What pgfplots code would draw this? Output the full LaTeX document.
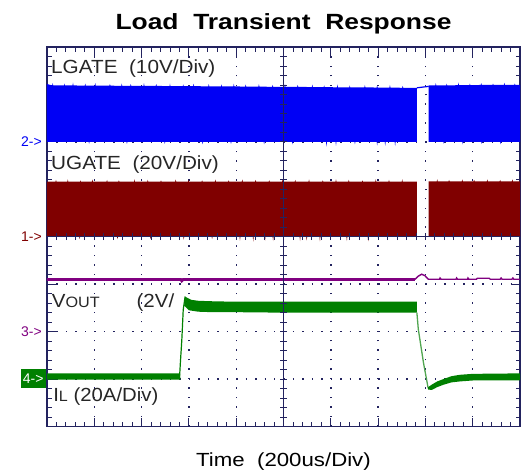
\documentclass[border=0pt]{standalone}
\usepackage{pgfplots}
\pgfplotsset{compat=1.18}
\usepackage{graphicx}
\usepackage{fontspec}
\setmainfont{Liberation Sans}
\definecolor{navy}{RGB}{35,35,95}
\definecolor{sblue}{RGB}{0,0,245}
\definecolor{sred}{RGB}{128,0,0}
\definecolor{spurple}{RGB}{128,0,128}
\definecolor{sgreen}{RGB}{0,128,0}
\definecolor{lgreen}{RGB}{80,165,80}
\newcommand{\wx}[2]{\scalebox{#1}[1]{#2}}
\begin{document}
\begin{tikzpicture}[x=1pt,y=1pt]
\useasboundingbox (-47,-45.5) rectangle (477,426.5);
\begin{axis}[at={(0,0)}, anchor=south west, scale only axis,
  width=473pt, height=379.5pt,
  xmin=0, xmax=10, ymin=0, ymax=8, clip=false,
  axis line style={navy, line width=1.6pt},
  xtick={0,...,10}, ytick={0,...,8}, xticklabels={}, yticklabels={},
  minor x tick num=4, minor y tick num=4,
  tick align=inside, major tick length=9pt, minor tick length=4.5pt,
  tick style={navy, line width=0.9pt},
  grid=major,
  major grid style={navy, line width=1.4pt, dash pattern=on 1.4pt off 8.06pt},
]
% LGATE (blue)
\addplot[fill=sblue, draw=none] coordinates {
(0,6.0) (0,7.22) (0.11,7.19) (0.12,7.24) (0.13,7.19) (0.36,7.19) (0.37,7.23) (0.38,7.19) (0.54,7.19) (0.55,7.25) (0.56,7.19)
(0.80,7.185) (0.81,7.23) (0.82,7.185) (1.01,7.185) (1.02,7.24) (1.03,7.185) (1.32,7.185) (1.33,7.22) (1.34,7.185)
(1.57,7.18) (1.58,7.23) (1.59,7.18) (1.76,7.18) (1.77,7.22) (1.78,7.18) (2.04,7.18) (2.05,7.24) (2.06,7.18)
(2.30,7.18) (2.31,7.22) (2.32,7.18) (2.59,7.175) (2.60,7.23) (2.61,7.175) (2.87,7.175) (2.88,7.21) (2.89,7.175)
(3.09,7.175) (3.10,7.23) (3.11,7.175) (3.41,7.17) (3.42,7.22) (3.43,7.17) (3.68,7.17) (3.69,7.21) (3.70,7.17)
(3.94,7.17) (3.95,7.23) (3.96,7.17) (4.19,7.165) (4.20,7.21) (4.21,7.165) (4.47,7.165) (4.48,7.22) (4.49,7.165)
(4.76,7.16) (4.77,7.20) (4.78,7.16) (5.02,7.16) (5.03,7.22) (5.04,7.16) (5.29,7.16) (5.30,7.20) (5.31,7.16)
(5.60,7.155) (5.61,7.21) (5.62,7.155) (5.85,7.155) (5.86,7.19) (5.87,7.155) (6.13,7.15) (6.14,7.21) (6.15,7.15)
(6.39,7.15) (6.40,7.19) (6.41,7.15) (6.71,7.15) (6.72,7.20) (6.73,7.15) (6.97,7.145) (6.98,7.19) (6.99,7.145)
(7.24,7.145) (7.25,7.20) (7.26,7.145) (7.51,7.14) (7.52,7.18) (7.53,7.14) (7.82,7.14) (7.82,6.0)
(7.37,6.0) (7.36,5.91) (7.35,6.0) (7.16,6.0) (7.15,5.92) (7.14,6.0)
(6.99,6.0) (6.98,5.92) (6.97,6.0) (6.52,6.0) (6.51,5.95) (6.50,6.0) (6.12,6.0) (6.11,5.92) (6.10,6.0)
(5.92,6.0) (5.91,5.90) (5.90,6.0) (5.20,6.0) (5.19,5.95) (5.18,6.0) (4.6,6.0) (4.59,5.95) (4.58,6.0)
(3.9,6.0) (3.89,5.96) (3.88,6.0) (3.3,6.0) (3.29,5.95) (3.28,6.0) (2.5,6.0) (2.49,5.96) (2.48,6.0)
(1.7,6.0) (1.69,5.96) (1.68,6.0) (0.9,6.0) (0.89,5.96) (0.88,6.0)
} -- cycle;
\addplot[fill=sblue, draw=none] coordinates {
(8.07,6.0) (8.07,7.19) (8.21,7.19) (8.22,7.24) (8.23,7.19) (8.44,7.19) (8.45,7.23) (8.46,7.19) (8.69,7.195) (8.70,7.25) (8.71,7.195)
(8.93,7.195) (8.94,7.23) (8.95,7.195) (9.17,7.20) (9.18,7.24) (9.19,7.20) (9.42,7.20) (9.43,7.23) (9.44,7.20)
(9.66,7.20) (9.67,7.25) (9.68,7.20) (9.88,7.20) (9.89,7.23) (9.90,7.20) (10,7.20)
(10,6.0) (9.6,6.0) (9.59,5.95) (9.58,6.0) (9.2,6.0) (9.19,5.96) (9.18,6.0) (8.8,6.0) (8.79,5.95) (8.78,6.0)
(8.4,6.0) (8.39,5.96) (8.38,6.0)
} -- cycle;
\addplot[sblue, line width=1.2pt] coordinates {(7.82,7.14) (8.07,7.17)};
% UGATE (dark red)
\addplot[fill=sred, draw=none] coordinates {
(0,4.0) (0,5.16) (0.18,5.16) (0.19,5.20) (0.20,5.16) (0.43,5.16) (0.44,5.21) (0.45,5.16) (0.70,5.16) (0.71,5.19) (0.72,5.16)
(0.95,5.16) (0.96,5.21) (0.97,5.16) (1.26,5.16) (1.27,5.20) (1.28,5.16) (1.51,5.16) (1.52,5.19) (1.53,5.16)
(1.84,5.16) (1.85,5.21) (1.86,5.16) (2.12,5.16) (2.13,5.20) (2.14,5.16) (2.40,5.16) (2.41,5.19) (2.42,5.16)
(2.71,5.16) (2.72,5.21) (2.73,5.16) (2.98,5.16) (2.99,5.20) (3.00,5.16) (3.27,5.16) (3.28,5.19) (3.29,5.16)
(3.55,5.16) (3.56,5.21) (3.57,5.16) (3.83,5.16) (3.84,5.19) (3.85,5.16) (4.12,5.16) (4.13,5.21) (4.14,5.16)
(4.40,5.16) (4.41,5.20) (4.42,5.16) (4.69,5.16) (4.70,5.19) (4.71,5.16) (4.97,5.16) (4.98,5.21) (4.99,5.16)
(5.24,5.16) (5.25,5.20) (5.26,5.16) (5.53,5.16) (5.54,5.21) (5.55,5.16) (5.82,5.16) (5.83,5.19) (5.84,5.16)
(6.10,5.16) (6.11,5.21) (6.12,5.16) (6.37,5.16) (6.38,5.20) (6.39,5.16) (6.66,5.16) (6.67,5.19) (6.68,5.16)
(6.94,5.16) (6.95,5.21) (6.96,5.16) (7.22,5.16) (7.23,5.20) (7.24,5.16) (7.50,5.16) (7.51,5.21) (7.52,5.16)
(7.82,5.16) (7.82,4.0)
(6.80,4.0) (6.79,3.90) (6.78,4.0) (6.35,4.0) (6.34,3.91) (6.33,4.0)
(5.78,4.0) (5.77,3.90) (5.76,4.0) (5.50,4.0) (5.49,3.92) (5.48,4.0)
(5.36,4.0) (5.35,3.91) (5.34,4.0) (4.79,4.0) (4.78,3.91) (4.77,4.0)
(4.62,4.0) (4.61,3.92) (4.60,4.0) (4.37,4.0) (4.36,3.90) (4.35,4.0)
(4.09,4.0) (4.08,3.92) (4.07,4.0) (3.5,4.0) (3.49,3.95) (3.48,4.0) (2.9,4.0) (2.89,3.94) (2.88,4.0)
(2.2,4.0) (2.19,3.95) (2.18,4.0) (1.5,4.0) (1.49,3.95) (1.48,4.0) (0.7,4.0) (0.69,3.95) (0.68,4.0)
} -- cycle;
\addplot[fill=sred, draw=none] coordinates {
(8.07,4.0) (8.07,5.17) (8.24,5.17) (8.25,5.21) (8.26,5.17) (8.49,5.17) (8.50,5.20) (8.51,5.17) (8.77,5.17) (8.78,5.21) (8.79,5.17)
(9.02,5.17) (9.03,5.20) (9.04,5.17) (9.30,5.17) (9.31,5.21) (9.32,5.17) (9.57,5.17) (9.58,5.20) (9.59,5.17)
(9.83,5.17) (9.84,5.21) (9.85,5.17) (10,5.17)
(10,4.0) (9.2,4.0) (9.19,3.94) (9.18,4.0) (8.6,4.0) (8.59,3.94) (8.58,4.0)
} -- cycle;
\addplot[sred, line width=1.2pt] coordinates {(7.82,4.01) (8.07,4.01)};
% purple
\addplot[spurple, line width=2.8pt] coordinates {(0,3.10) (2.83,3.10) (2.85,3.07) (2.88,3.10) (7.78,3.10)};
\addplot[spurple, line width=1.4pt] coordinates {(7.78,3.10) (7.85,3.17) (7.92,3.21) (7.99,3.18) (8.06,3.105)
 (8.30,3.105) (8.31,3.13) (8.33,3.105) (8.65,3.105) (8.66,3.13) (8.68,3.105) (8.89,3.105) (8.90,3.13) (8.92,3.105)
 (9.08,3.105) (9.10,3.125) (9.35,3.125) (9.37,3.105) (9.58,3.105) (9.60,3.13) (9.62,3.105) (9.83,3.105) (9.85,3.13) (9.87,3.105) (10,3.105)};
% green (VOUT / IL)
\addplot[fill=sgreen, draw=none] coordinates {(0,0.99) (0,1.12) (2.81,1.12) (2.82,0.99)} -- cycle;
\addplot[sgreen, line width=1.2pt] coordinates {(2.80,1.0) (2.82,1.35) (2.85,1.82) (2.88,2.46) (2.92,2.74)};
\addplot[fill=sgreen, draw=none] coordinates {
(2.90,2.55) (2.92,2.74) (2.97,2.71) (3.05,2.67) (3.2,2.65) (3.5,2.64) (4.0,2.63) (5.0,2.63)
(6.0,2.63) (7.0,2.63) (7.82,2.63) (7.82,2.40) (7.0,2.40) (6.0,2.40) (5.0,2.40) (4.0,2.41)
(3.5,2.41) (3.2,2.42) (3.0,2.45)} -- cycle;
\addplot[lgreen, line width=1.3pt] coordinates {(7.82,2.40) (7.85,2.05) (7.96,1.34) (8.06,0.80)};
\addplot[fill=sgreen, draw=none] coordinates {
(8.06,0.78) (8.13,0.77) (8.25,0.83) (8.38,0.88) (8.55,0.93) (8.73,0.95) (9.0,0.97) (10,0.97)
(10,1.12) (9.0,1.11) (8.73,1.09) (8.55,1.06) (8.38,1.00) (8.25,0.95) (8.13,0.88) (8.06,0.83)} -- cycle;
% texts
\node[anchor=base, inner sep=0pt, font=\bfseries\fontsize{22}{23}\selectfont] at (axis cs:5,8.365) {\wx{1.2}{Load\ \ Transient\ \ Response}};
\node[anchor=base, inner sep=0pt, font=\fontsize{19}{20}\selectfont] at (axis cs:5,-0.833) {\wx{1.17}{Time\ \ (200us/Div)}};
\node[anchor=base west, inner sep=0pt, font=\fontsize{19}{20}\selectfont, text=black!85] at (axis cs:0.085,7.45) {\wx{1.09}{LGATE\ \ (10V/Div)}};
\node[anchor=base west, inner sep=0pt, font=\fontsize{19}{20}\selectfont, text=black!85] at (axis cs:0.085,5.41) {\wx{1.09}{UGATE\ \ (20V/Div)}};
\node[anchor=base west, inner sep=0pt, font=\fontsize{19}{20}\selectfont, text=black!85] at (axis cs:0.10,2.51) {\wx{1.08}{V{\fontsize{15}{16}\selectfont OUT}}};
\node[anchor=base west, inner sep=0pt, font=\fontsize{19}{20}\selectfont, text=black!85] at (axis cs:1.89,2.51) {\wx{1.08}{(2V/}};
\node[anchor=base west, inner sep=0pt, font=\fontsize{19}{20}\selectfont, text=black!85] at (axis cs:0.13,0.52) {\wx{1.07}{I{\fontsize{15}{16}\selectfont L} (20A/Div)}};
\node[anchor=east, inner sep=0pt, font=\fontsize{14}{15}\selectfont, text=sblue] at (axis cs:-0.105,6.0) {2->};
\node[anchor=east, inner sep=0pt, font=\fontsize{14}{15}\selectfont, text=sred] at (axis cs:-0.105,4.0) {1->};
\node[anchor=east, inner sep=0pt, font=\fontsize{14}{15}\selectfont, text=spurple] at (axis cs:-0.105,2.0) {3->};
\node[anchor=east, inner sep=0pt, fill=sgreen, minimum width=25.3pt, minimum height=19.3pt, font=\fontsize{14}{15}\selectfont, text=white] at (axis cs:-0.02,1.008) {4->};
\end{axis}
% centre graticule cross
\draw[navy, line width=0.8pt] (236.5,0) -- (236.5,379.5);
\draw[navy, line width=0.8pt] (0,189.75) -- (473,189.75);
\foreach \i in {1,...,39} {\draw[navy, line width=0.8pt] (233.2,\i*9.4875) -- (239.8,\i*9.4875);}
\foreach \i in {1,...,49} {\draw[navy, line width=0.8pt] (\i*9.46,186.45) -- (\i*9.46,193.05);}
\end{tikzpicture}
\end{document}
